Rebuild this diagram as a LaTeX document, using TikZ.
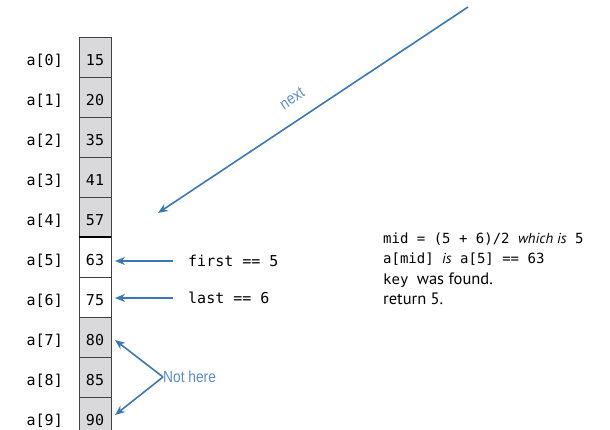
\documentclass[tikz,border=0pt]{standalone}
\usepackage{fontspec}
\setmainfont{PT Sans}
\setmonofont{DejaVu Sans Mono}
\newfontfamily\notefont[FakeStretch=0.86]{Liberation Sans}
\usetikzlibrary{arrows.meta,positioning}
\definecolor{arrblue}{HTML}{3A77B6}
\definecolor{noteblue}{HTML}{5B8CC6}
\definecolor{cellgrey}{HTML}{D9D9DB}
\newcommand{\prose}{\rmfamily\fontsize{16.5}{18}\selectfont}
\newcommand{\proseit}{\rmfamily\itshape\fontsize{14.5}{18}\selectfont}

\begin{document}
\begin{tikzpicture}[x=1pt,y=-1pt,
every node/.style={font=\ttfamily\fontsize{15}{18}\selectfont},
cell/.style={draw=black!75,line width=0.8pt,fill=cellgrey,minimum width=32pt,minimum height=40pt,inner sep=0pt,outer sep=0pt,text height=16pt,text depth=0pt},
hit/.style={cell,fill=white},
idx/.style={inner sep=0pt,text height=16pt,text depth=0pt},
txt/.style={inner sep=0pt,anchor=base west,font=\ttfamily\fontsize{14}{17}\selectfont},
note/.style={font=\notefont\fontsize{16}{18}\selectfont,text=noteblue,inner sep=0pt},
arr/.style={-{Stealth[length=10pt,width=8pt]},line width=1.6pt,draw=arrblue}
]
\useasboundingbox (0,0) rectangle (610,429);
\clip (0,0) rectangle (610,429);

\node[cell] (c0) at (95,57) {15};
\node[cell,below=0pt of c0] (c1) {20};
\node[cell,below=0pt of c1] (c2) {35};
\node[cell,below=0pt of c2] (c3) {41};
\node[cell,below=0pt of c3] (c4) {57};
\node[hit,below=0pt of c4]  (c5) {63};
\node[hit,below=0pt of c5]  (c6) {75};
\node[cell,below=0pt of c6] (c7) {80};
\node[cell,below=0pt of c7] (c8) {85};
\node[cell,below=0pt of c8] (c9) {90};
\draw[line width=1.6pt] (c4.south west) -- (c4.south east);

\node[idx,left=16pt of c0] (l0) {a[0]};
\node[idx,left=16pt of c1] (l1) {a[1]};
\node[idx,left=16pt of c2] (l2) {a[2]};
\node[idx,left=16pt of c3] (l3) {a[3]};
\node[idx,left=16pt of c4] (l4) {a[4]};
\node[idx,left=16pt of c5] (l5) {a[5]};
\node[idx,left=16pt of c6] (l6) {a[6]};
\node[idx,left=16pt of c7] (l7) {a[7]};
\node[idx,left=16pt of c8] (l8) {a[8]};
\node[idx,left=16pt of c9] (l9) {a[9]};

\node[inner sep=0pt,anchor=west] (fst) at (188,261) {first == 5};
\node[inner sep=0pt,anchor=west] (lst) at (188,298) {last == 6};
\draw[arr,shorten <=15pt,shorten >=4pt] (fst.west) -- (fst.west -| c5.east);
\draw[arr,shorten <=15pt,shorten >=4pt] (lst.west) -- (lst.west -| c6.east);

\node[note,anchor=west] (nh) at (163,377) {Not here};
\draw[arr] (nh.west) -- ([shift={(4,3)}]c7.east);
\draw[arr] (nh.west) -- ([shift={(4,-2)}]c9.east);

\coordinate (nxtA) at (468,7);
\coordinate (nxtB) at (158,213);
\draw[arr] (nxtA) -- node[note,pos=0.53,sloped,above=15pt] {next} (nxtB);

\node[txt] (ln1) at (383,243) {mid = (5 + 6)/2 {\proseit which is} 5};
\node[txt] (ln2) at ([yshift=-20.5pt]ln1.base west) {a[mid] {\proseit is} a[5] == 63};
\node[txt] (ln3) at ([yshift=-20.5pt]ln2.base west) {key {\prose was found.}};
\node[txt] (ln4) at ([yshift=-20.5pt]ln3.base west) {\prose return 5.};
\end{tikzpicture}
\end{document}
